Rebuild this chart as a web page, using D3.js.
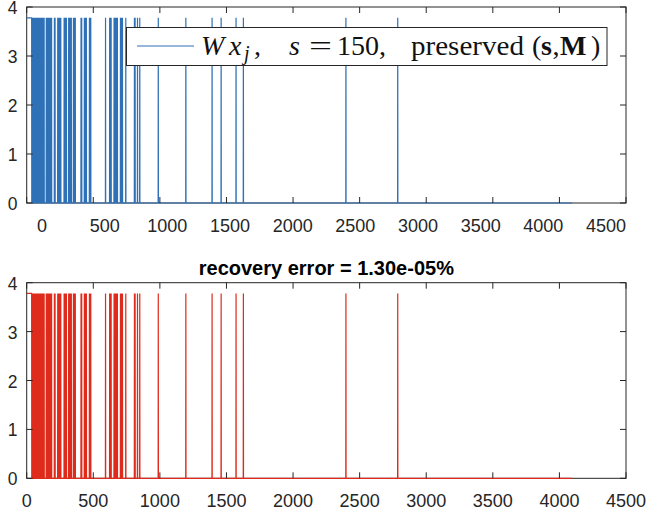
<!DOCTYPE html>
<html><head><meta charset="utf-8">
<script src="https://cdn.jsdelivr.net/npm/d3@7"></script>
<style>body{margin:0;background:#fff}svg{display:block}</style>
</head><body>
<svg id="c" width="648" height="514"></svg>
<script>
// ---------------- data ----------------
const signalLength = 4096;
const amplitude = 3.78;
// leading contiguous run of non-zero entries
const leadingRun = [1,2,3,4,5,6,7,8,9,10,11,12,13,14,15,16,17,18,19,20,21,22,23,24,25,26,27,28,29,30,31,32,33,34,35,36,37];
// isolated non-zero positions
const spikeIdx = [42,47,52,57,62,67,72,77,82,87,92,97,102,107,112,117,122,127,131,
  147,152,157,162,167,172,177,182,187,
  208,213,
  233,238,244,250,256,
  281,287,293,298,
  315,320,325,330,335,
  351,356,361,365,
  408,413,
  433,438,443,448,
  471,476,481,
  592,
  623,628,634,
  656,661,666,671,676,681,
  704,709,714,719,
  744,
  809,814,
  832,
  849,
  988,1195,1392,1460,1572,1627,2397,2786];
const xTicks = [0,500,1000,1500,2000,2500,3000,3500,4000,4500];
const xTickLabels = ["0","500","1000","1500","2000","2500","3000","3500","4000","4500"];
const yTicks = [0,1,2,3,4];
const yTickLabels = ["0","1","2","3","4"];
const titleText = "recovery error = 1.30e-05%";

// ---------------- build series ----------------
const values = new Array(signalLength).fill(0);
leadingRun.concat(spikeIdx).forEach(i => { values[i-1] = amplitude; });
const series = values.map((v,i) => [i+1, v]);

const svg = d3.select("#c");
const sans = "'Liberation Sans', Arial, Helvetica, sans-serif";
const serif = "'Liberation Serif', 'Times New Roman', serif";
const axisCol = "#262626";

const x = d3.scaleLinear().domain([0,4500]).range([26.7, 626]);

const panels = [
  {top:7, bottom:203, color:"#2f71b6", labelScale:d3.scaleLinear().domain([0,4500]).range([42,606]), labelY:232},
  {top:282.7, bottom:478.3, color:"#de2b1c", labelScale:x, labelY:507, title:titleText}
];

panels.forEach(p => {
  const y = d3.scaleLinear().domain([0,4]).range([p.bottom, p.top]);
  const g = svg.append("g");
  g.append("rect").attr("x", x(0)).attr("y", p.top)
    .attr("width", x(4500)-x(0)).attr("height", p.bottom-p.top)
    .attr("fill","none").attr("stroke",axisCol).attr("stroke-width",1);
  g.append("path").datum(series)
    .attr("d", d3.line().x(d=>x(d[0])).y(d=>y(d[1])))
    .attr("fill","none").attr("stroke",p.color).attr("stroke-width",1.2)
    .attr("stroke-linejoin","miter");
  const tl = 6;
  xTicks.forEach(t => {
    g.append("line").attr("x1",x(t)).attr("x2",x(t)).attr("y1",p.bottom).attr("y2",p.bottom-tl).attr("stroke",axisCol);
    g.append("line").attr("x1",x(t)).attr("x2",x(t)).attr("y1",p.top).attr("y2",p.top+tl).attr("stroke",axisCol);
  });
  yTicks.forEach(t => {
    g.append("line").attr("x1",x(0)).attr("x2",x(0)+tl).attr("y1",y(t)).attr("y2",y(t)).attr("stroke",axisCol);
    g.append("line").attr("x1",x(4500)).attr("x2",x(4500)-tl).attr("y1",y(t)).attr("y2",y(t)).attr("stroke",axisCol);
  });
  xTicks.forEach((t,i) => {
    g.append("text").attr("x",p.labelScale(t)).attr("y",p.labelY)
      .attr("text-anchor","middle").attr("font-family",sans).attr("font-size",18)
      .attr("fill",axisCol).text(xTickLabels[i]);
  });
  yTicks.forEach((t,i) => {
    g.append("text").attr("x",17.5).attr("y",y(t)+7)
      .attr("text-anchor","end").attr("font-family",sans).attr("font-size",17.5)
      .attr("fill",axisCol).text(yTickLabels[i]);
  });
  if (p.title) {
    g.append("text").attr("x",(x(0)+x(4500))/2).attr("y",p.top-8)
      .attr("text-anchor","middle").attr("font-family",sans).attr("font-size",20)
      .attr("font-weight","bold").attr("fill","#000").text(p.title);
  }
});

// ---------------- legend ----------------
const lg = svg.append("g");
lg.append("rect").attr("x",126.5).attr("y",27.5).attr("width",480.5).attr("height",38)
  .attr("fill","#fff").attr("stroke",axisCol).attr("stroke-width",1);
lg.append("line").attr("x1",137).attr("x2",194).attr("y1",46).attr("y2",46)
  .attr("stroke",panels[0].color).attr("stroke-width",1.1);
const pieces = [
  {t:"W", x:201, it:true},
  {t:"x", x:229, it:true},
  {t:"j", x:244, it:true, sub:true},
  {t:",", x:254},
  {t:"s", x:289, it:true},
  {t:"=", x:309, len:23},
  {t:"150,", x:337},
  {t:"preserved", x:411, len:113},
  {t:"(", x:532},
  {t:"s", x:541, bold:true},
  {t:",", x:552.5},
  {t:"M", x:560, bold:true},
  {t:")", x:591}
];
pieces.forEach(pc => {
  const tx = lg.append("text").attr("x",pc.x).attr("y",pc.sub ? 60 : 55.3)
    .attr("font-family",serif).attr("font-size",pc.sub ? 20 : 28)
    .attr("fill","#111")
    .attr("font-style",pc.it ? "italic" : "normal")
    .attr("font-weight",pc.bold ? "bold" : "normal")
    .text(pc.t);
  if (pc.len) tx.attr("textLength",pc.len).attr("lengthAdjust","spacingAndGlyphs");
});
</script>
</body></html>
